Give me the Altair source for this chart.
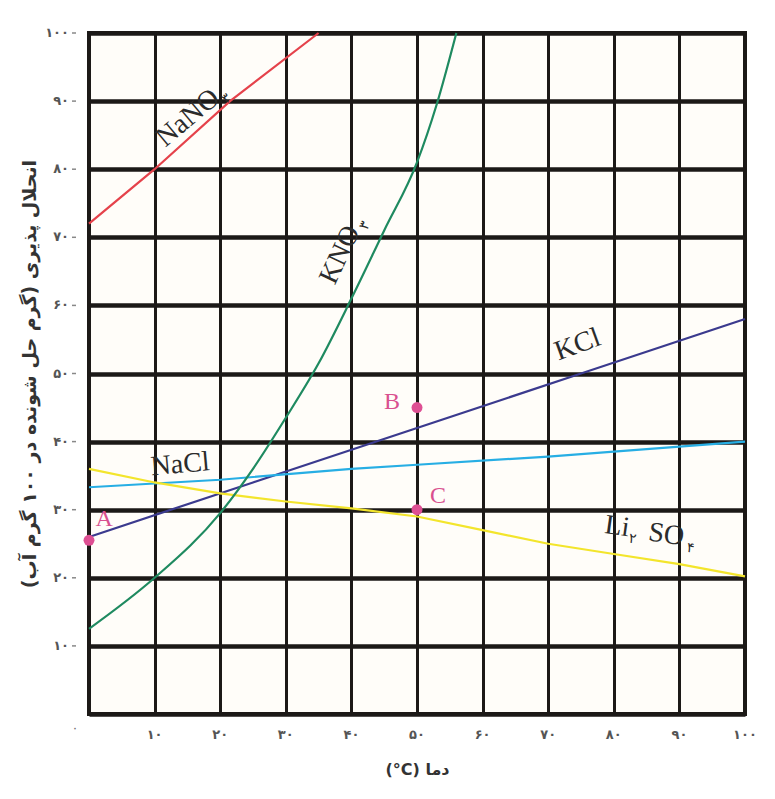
import altair as alt
import pandas as pd

# ---------------- data ----------------
nano3_t = [0, 10, 21.5, 35]
nano3_s = [72, 80, 90, 100]

kno3_t = [0, 10, 20, 25, 30, 35, 40, 45, 50, 53, 56]
kno3_s = [12.5, 20, 29.5, 36, 43.5, 51.5, 61, 71, 81, 89.5, 100]

kcl_t = [0, 25, 50, 75, 100]
kcl_s = [26, 34, 42, 50, 58]

nacl_t = [0, 20, 40, 50, 70, 100]
nacl_s = [33.3, 34.4, 36.0, 36.6, 37.8, 40]

li2so4_t = [0, 10, 20, 30, 40, 50, 60, 70, 80, 90, 100]
li2so4_s = [36, 34, 32.4, 31.2, 30.2, 29, 27, 25, 23.5, 22, 20.2]

point_names = ["A", "B", "C"]
point_t = [0, 50, 50]
point_s = [25.5, 45, 30]
point_label_t = [2.3, 46.2, 53.2]
point_label_s = [28.6, 45.8, 32.0]

x_ticks = [10, 20, 30, 40, 50, 60, 70, 80, 90, 100]
x_tick_labels = ["۱۰", "۲۰", "۳۰", "۴۰", "۵۰", "۶۰", "۷۰", "۸۰", "۹۰", "۱۰۰"]
y_ticks = [10, 20, 30, 40, 50, 60, 70, 80, 90, 100]
y_tick_labels = ["۱۰", "۲۰", "۳۰", "۴۰", "۵۰", "۶۰", "۷۰", "۸۰", "۹۰", "۱۰۰"]
grid_values = [0, 10, 20, 30, 40, 50, 60, 70, 80, 90, 100]

# curve labels: main text, position, angle, subscript
label_text = ["NaNO", "KNO", "KCl", "NaCl", "Li", "SO"]
label_t = [15.1, 38.3, 74.5, 13.9, 80.5, 88.0]
label_s = [87.5, 67.4, 54.2, 36.6, 27.5, 26.3]
label_angle = [320, 295, 340, 355, 8, 8]
label_sub = ["۳", "۳", "", "", "۲", "۴"]
label_sub_dx = [42, 37, 0, 0, 17, 26]

x_title = "(°C) دما"
y_title = "\u202bانحلال پذیری (گرم حل شونده در ۱۰۰ گرم آب)\u202c"

W, H = 656, 681

xs = alt.Scale(domain=[0, 100], nice=False, zero=False)
ys = alt.Scale(domain=[0, 100], nice=False, zero=False)

# ---------------- tables ----------------
rows = []
for name, ts, ss in [("NaNO3", nano3_t, nano3_s), ("KCl", kcl_t, kcl_s),
                     ("NaCl", nacl_t, nacl_s), ("Li2SO4", li2so4_t, li2so4_s)]:
    for t, s in zip(ts, ss):
        rows.append({"series": name, "t": t, "s": s})
lin_df = pd.DataFrame(rows)
kno3_df = pd.DataFrame({"t": kno3_t, "s": kno3_s})
pts_df = pd.DataFrame({"name": point_names, "t": point_t, "s": point_s,
                       "lt": point_label_t, "ls": point_label_s})
lab_df = pd.DataFrame({"text": label_text, "t": label_t, "s": label_s,
                       "angle": label_angle, "sub": label_sub, "dx": label_sub_dx})
xt_df = pd.DataFrame({"v": x_ticks, "lab": x_tick_labels})
yt_df = pd.DataFrame({"v": y_ticks, "lab": y_tick_labels})
grid_df = pd.DataFrame({"v": grid_values})

GRID = "#1c1917"

base_x_axis = alt.Axis(values=grid_values, grid=True, gridColor=GRID, gridWidth=3,
                       gridOpacity=1, labels=False, ticks=False, domain=False,
                       title=x_title, titleFont="DejaVu Sans", titleFontSize=16,
                       titleFontWeight="bold", titleColor="#333", titlePadding=47)
base_y_axis = alt.Axis(values=grid_values, grid=True, gridColor=GRID, gridWidth=4.5,
                       gridOpacity=1, labels=False, ticks=False, domain=False,
                       title=y_title,
                       titleFont="DejaVu Sans", titleFontSize=19, titleFontWeight="bold",
                       titleColor="#333", titlePadding=50)

grid_layer = alt.Chart(grid_df).mark_point(opacity=0).encode(
    x=alt.X("v:Q", scale=xs, axis=base_x_axis),
    y=alt.Y("v:Q", scale=ys, axis=base_y_axis),
)

color_scale = alt.Scale(domain=["NaNO3", "KCl", "NaCl", "Li2SO4"],
                        range=["#e5424b", "#3b3a8e", "#27aee4", "#f3e52c"])

lines = alt.Chart(lin_df).mark_line(strokeWidth=2.2).encode(
    x=alt.X("t:Q", scale=xs),
    y=alt.Y("s:Q", scale=ys),
    color=alt.Color("series:N", scale=color_scale, legend=None),
    detail="series:N",
)

kno3 = alt.Chart(kno3_df).mark_line(strokeWidth=2.2, color="#1f8a60",
                                    interpolate="monotone").encode(
    x=alt.X("t:Q", scale=xs),
    y=alt.Y("s:Q", scale=ys),
)

dots = alt.Chart(pts_df).mark_circle(size=120, color="#de4f93", opacity=1).encode(
    x=alt.X("t:Q", scale=xs),
    y=alt.Y("s:Q", scale=ys),
)

dot_labels = alt.Chart(pts_df).mark_text(font="Liberation Serif", fontSize=24,
                                         color="#d9508f").encode(
    x=alt.X("lt:Q", scale=xs),
    y=alt.Y("ls:Q", scale=ys),
    text="name:N",
)

curve_labels = alt.Chart(lab_df).mark_text(font="Liberation Serif", fontSize=28,
                                           color="#2b2b2b", align="center",
                                           baseline="middle").encode(
    x=alt.X("t:Q", scale=xs),
    y=alt.Y("s:Q", scale=ys),
    text="text:N",
    angle=alt.Angle("angle:Q", scale=None),
)

sub_layers = []
for i in range(len(label_text)):
    if label_sub[i]:
        sub_layers.append(
            alt.Chart(lab_df.iloc[[i]]).mark_text(
                font="DejaVu Sans", fontSize=14, color="#2b2b2b", align="center",
                baseline="middle", dx=label_sub_dx[i], dy=10, angle=label_angle[i]
            ).encode(
                x=alt.X("t:Q", scale=xs),
                y=alt.Y("s:Q", scale=ys),
                text="sub:N",
            )
        )

x_labels = alt.Chart(xt_df).mark_text(font="DejaVu Sans", fontSize=13, fontWeight="bold",
                                      color="#555", baseline="middle").encode(
    x=alt.X("v:Q", scale=xs),
    y=alt.value(H + 21),
    text="lab:N",
)

y_labels = alt.Chart(yt_df).mark_text(font="DejaVu Sans", fontSize=13, fontWeight="bold",
                                      color="#555", align="right",
                                      baseline="middle").encode(
    x=alt.value(-20),
    y=alt.Y("v:Q", scale=ys),
    text="lab:N",
)

y_dashes = alt.Chart(yt_df).mark_rule(color="#888", strokeWidth=1.5).encode(
    x=alt.value(-17),
    x2=alt.value(-13),
    y=alt.Y("v:Q", scale=ys),
)

origin_label = alt.Chart(pd.DataFrame({"v": [0], "lab": ["۰"]})).mark_text(
    font="DejaVu Sans", fontSize=12, color="#666", dx=-14, dy=14).encode(
    x=alt.X("v:Q", scale=xs),
    y=alt.Y("v:Q", scale=ys),
    text="lab:N",
)

chart = alt.layer(
    grid_layer, lines, kno3, dots, dot_labels, curve_labels, *sub_layers,
    x_labels, y_labels, y_dashes, origin_label
).properties(
    width=W, height=H,
    autosize=alt.AutoSizeParams(type="none"),
    padding={"left": 81, "top": 25, "right": 22, "bottom": 77},
    background="white",
).configure_view(
    stroke=GRID, strokeWidth=4, fill="#fffdf9"
)

chart.save("out.html", embed_options={"renderer": "svg", "actions": False})
